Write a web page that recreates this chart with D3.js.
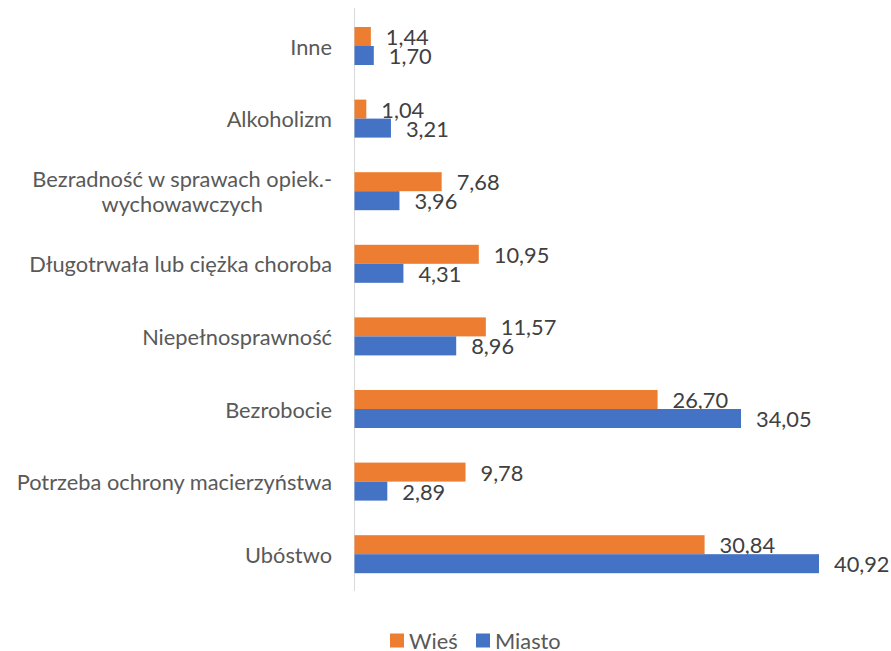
<!DOCTYPE html>
<html><head><meta charset="utf-8">
<script src="https://cdn.jsdelivr.net/npm/d3@7/dist/d3.min.js"></script>
<style>body{margin:0;background:#fff}</style>
</head><body>
<svg id="c" width="891" height="651"></svg>
<script>
const categories = ["Inne","Alkoholizm","Bezradność w sprawach opiek.-\nwychowawczych","Długotrwała lub ciężka choroba","Niepełnosprawność","Bezrobocie","Potrzeba ochrony macierzyństwa","Ubóstwo"];
const wies = [1.44,1.04,7.68,10.95,11.57,26.70,9.78,30.84];
const miasto = [1.70,3.21,3.96,4.31,8.96,34.05,2.89,40.92];
const seriesNames = ["Wieś","Miasto"];
const colors = ["#ED7D31","#4472C4"];

const font = "Lato, 'Open Sans', sans-serif";
const fs = 21.8;
const svg = d3.select("#c");
const x = d3.scaleLinear().domain([0, 40.92]).range([354.5, 819]);
const y = d3.scaleBand().domain(categories).range([9.7, 590.5]).paddingInner(0);
const barH = 19;
const fmt = v => v.toFixed(2).replace(".", ",");

// axis line
svg.append("line").attr("x1", 354.5).attr("x2", 354.5).attr("y1", 8).attr("y2", 591)
  .attr("stroke", "#d9d9d9").attr("stroke-width", 1);

const series = [wies, miasto];
series.forEach((vals, si) => {
  const g = svg.append("g");
  categories.forEach((c, i) => {
    const cy = y(c) + y.bandwidth() / 2;
    const top = cy - barH + si * barH;
    g.append("rect").attr("x", x(0)).attr("y", top)
      .attr("width", x(vals[i]) - x(0)).attr("height", barH)
      .attr("fill", colors[si]);
    g.append("text").attr("x", x(vals[i]) + 15).attr("y", top + barH / 2)
      .attr("dominant-baseline", "central")
      .attr("font-family", font).attr("font-size", fs).attr("fill", "#404040")
      .text(fmt(vals[i]));
  });
});

// category labels
const labelRight = 332;
categories.forEach(c => {
  const lines = c.split("\n");
  const cy = y(c) + y.bandwidth() / 2;
  const lh = 25;
  const t = svg.append("text").attr("font-family", font).attr("font-size", fs).attr("fill", "#595959");
  const tsp = lines.map((l, k) => t.append("tspan").attr("y", cy + (k - (lines.length - 1) / 2) * lh)
    .attr("dominant-baseline", "central").text(l));
  if (lines.length === 1) {
    t.attr("text-anchor", "end"); tsp[0].attr("x", labelRight);
  } else {
    const maxW = d3.max(tsp, s => s.node().getComputedTextLength());
    t.attr("text-anchor", "middle");
    tsp.forEach(s => s.attr("x", labelRight - maxW / 2));
  }
});

// legend
const legX = [390, 476];
seriesNames.forEach((n, i) => {
  svg.append("rect").attr("x", legX[i]).attr("y", 633.5).attr("width", 14).attr("height", 14).attr("fill", colors[i]);
  svg.append("text").attr("x", legX[i] + 19).attr("y", 640).attr("dominant-baseline", "central")
    .attr("font-family", font).attr("font-size", fs).attr("fill", "#595959").text(n);
});
</script>
</body></html>
